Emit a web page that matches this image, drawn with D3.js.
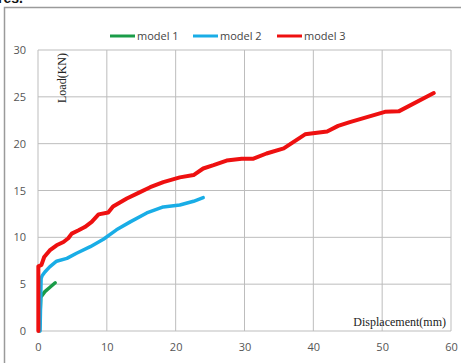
<!DOCTYPE html>
<html>
<head>
<meta charset="utf-8">
<script src="https://cdn.jsdelivr.net/npm/d3@7"></script>
<style>
    body { margin: 0; background: #fff; }
    svg { display: block; }
</style>
</head>
<body>
<script>
// Load-displacement curves: [displacement mm, load kN]
const model1 = [[0.2, 0], [0.4, 3.6], [0.6, 3.8], [1.0, 4.2], [1.7, 4.65], [2.5, 5.15]];
const model2 = [[0.3, 0], [0.45, 5.6], [0.6, 5.9], [1.0, 6.3], [1.7, 6.85], [2.7, 7.45], [4.2, 7.75],
    [5.6, 8.3], [7.6, 9.0], [9.5, 9.8], [11.4, 10.8], [13.4, 11.65], [15.8, 12.6], [18.2, 13.25],
    [20.6, 13.45], [22.6, 13.85], [24.0, 14.25]];
const model3 = [[0.05, 0], [0.05, 6.9], [0.5, 7.05], [0.9, 7.9], [1.7, 8.6], [2.7, 9.15], [3.7, 9.5],
    [4.4, 9.9], [4.9, 10.4], [5.9, 10.75], [6.8, 11.1], [7.8, 11.65], [8.8, 12.45], [10.2, 12.65],
    [10.9, 13.3], [12.9, 14.15], [14.6, 14.75], [16.3, 15.35], [18.2, 15.9], [20.6, 16.4], [22.6, 16.65],
    [24.0, 17.35], [25.5, 17.7], [27.4, 18.2], [29.6, 18.4], [31.3, 18.4], [33.2, 18.95], [35.7, 19.5],
    [38.8, 21.0], [42.0, 21.3], [43.6, 21.9], [45.3, 22.3], [50.4, 23.4], [52.4, 23.45], [57.5, 25.4]];

const seriesNames = ["model 1", "model 2", "model 3"];
const seriesColors = ["#1a9c48", "#19ade6", "#ee1010"];
const xTicks = [0, 10, 20, 30, 40, 50, 60];
const yTicks = [0, 5, 10, 15, 20, 25, 30];

const width = 461, height = 363;

const svg = d3.select("body").append("svg")
    .attr("width", width)
    .attr("height", height);

// scrap of caption text cut off at the top of the picture
svg.append("text")
    .attr("x", -2)
    .attr("y", 3)
    .style("font-family", "Arial, sans-serif")
    .style("font-weight", "bold")
    .style("font-size", "14px")
    .attr("fill", "#111")
    .text("res.");

// outer chart border
svg.append("rect")
    .attr("x", 4.5)
    .attr("y", 7.5)
    .attr("width", 470)
    .attr("height", 370)
    .attr("fill", "none")
    .attr("stroke", "#9a9a9a")
    .attr("stroke-width", 1.5);

const x = d3.scaleLinear().domain([0, 60]).range([38, 451]);
const y = d3.scaleLinear().domain([0, 30]).range([331, 50]);

// gridlines
svg.append("g")
    .selectAll("line")
    .data(xTicks)
    .enter()
    .append("line")
    .attr("x1", d => x(d))
    .attr("x2", d => x(d))
    .attr("y1", y(0))
    .attr("y2", y(30))
    .attr("stroke", "#bdbdbd")
    .attr("stroke-width", 1);

svg.append("g")
    .selectAll("line")
    .data(yTicks)
    .enter()
    .append("line")
    .attr("x1", x(0))
    .attr("x2", x(60))
    .attr("y1", d => y(d))
    .attr("y2", d => y(d))
    .attr("stroke", "#bdbdbd")
    .attr("stroke-width", 1);

// axes, labels only
const xAxis = d3.axisBottom(x).tickValues(xTicks).tickSize(0).tickPadding(12);
const yAxis = d3.axisLeft(y).tickValues(yTicks).tickSize(0).tickPadding(12);

const gx = svg.append("g").attr("transform", `translate(0, ${y(0)})`).call(xAxis);
const gy = svg.append("g").attr("transform", `translate(${x(0)}, 0)`).call(yAxis);

[gx, gy].forEach(g => {
    g.select(".domain").remove();
    g.selectAll("text")
        .style("font-family", "'Open Sans', Arial, sans-serif")
        .style("font-size", "11px")
        .attr("fill", "#555");
});

// curves
const line = d3.line()
    .x(d => x(d[0]))
    .y(d => y(d[1]));

const allSeries = [model1, model2, model3];

svg.append("g")
    .selectAll("path")
    .data(allSeries)
    .enter()
    .append("path")
    .attr("d", line)
    .attr("fill", "none")
    .attr("stroke", (d, i) => seriesColors[i])
    .attr("stroke-width", (d, i) => i === 2 ? 4 : 3.5)
    .attr("stroke-linejoin", "round")
    .attr("stroke-linecap", "round");

// legend
const legendX = [110, 193, 277];
const legend = svg.append("g")
    .selectAll("g")
    .data(seriesNames)
    .enter()
    .append("g")
    .attr("transform", (d, i) => `translate(${legendX[i]}, 36)`);

legend.append("line")
    .attr("x1", 0)
    .attr("x2", 25)
    .attr("stroke", (d, i) => seriesColors[i])
    .attr("stroke-width", 3);

legend.append("text")
    .attr("x", 27)
    .attr("y", 4)
    .style("font-family", "'Open Sans', Arial, sans-serif")
    .style("font-size", "11px")
    .attr("fill", "#444")
    .text(d => d);

// axis titles
svg.append("text")
    .attr("transform", "translate(66, 78) rotate(-90)")
    .attr("text-anchor", "middle")
    .style("font-family", "'Liberation Serif', 'Times New Roman', serif")
    .style("font-size", "12px")
    .attr("fill", "#222")
    .text("Load(KN)");

svg.append("text")
    .attr("x", 446)
    .attr("y", 326)
    .attr("text-anchor", "end")
    .style("font-family", "'Liberation Serif', 'Times New Roman', serif")
    .style("font-size", "12px")
    .attr("fill", "#222")
    .text("Displacement(mm)");
</script>
</body>
</html>
